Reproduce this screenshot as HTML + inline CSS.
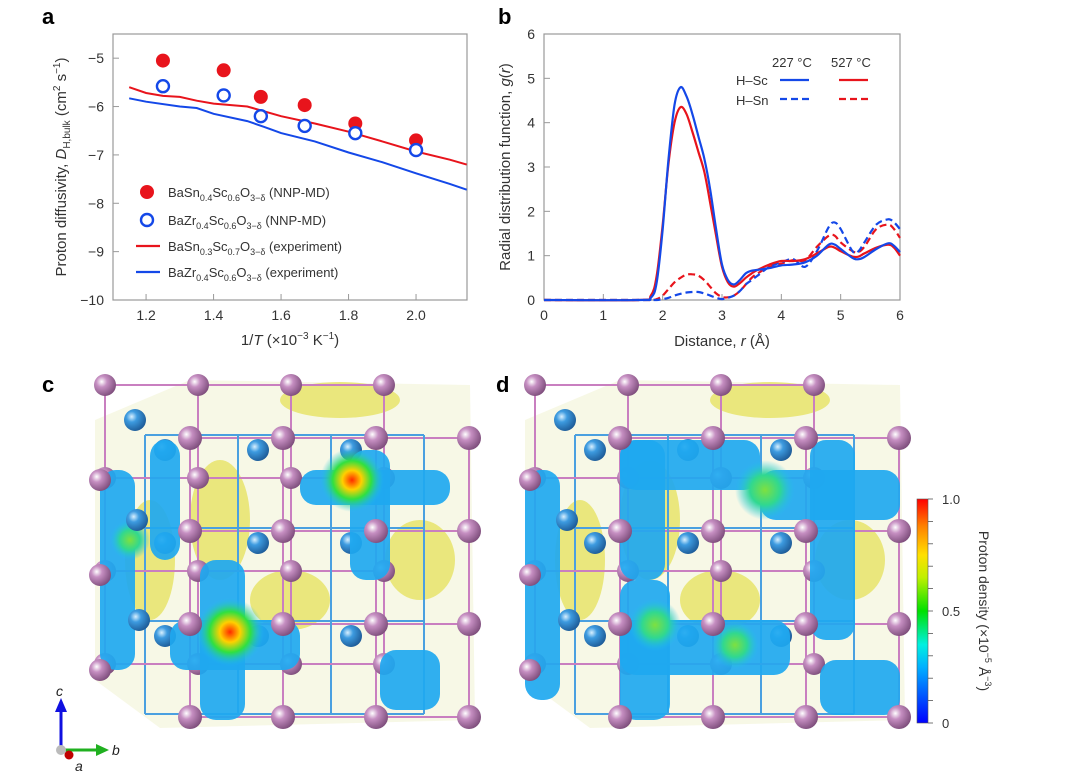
<!DOCTYPE html>
<html><head><meta charset="utf-8">
<style>
html,body{margin:0;padding:0;background:#fff;}
body{width:1080px;height:776px;overflow:hidden;font-family:"Liberation Sans",sans-serif;}
svg text{font-family:"Liberation Sans",sans-serif;}
</style></head><body>
<svg id="fig" width="1080" height="776" viewBox="0 0 1080 776">
<defs>
<radialGradient id="gPur" cx="0.35" cy="0.35" r="0.7"><stop offset="0" stop-color="#fff"/><stop offset="0.35" stop-color="#c68fc2"/><stop offset="1" stop-color="#7d4d7b"/></radialGradient>
<radialGradient id="gBlu" cx="0.35" cy="0.35" r="0.7"><stop offset="0" stop-color="#d8f0ff"/><stop offset="0.35" stop-color="#3d9be0"/><stop offset="1" stop-color="#1d5a96"/></radialGradient>
<radialGradient id="gHot" cx="0.5" cy="0.5" r="0.5"><stop offset="0" stop-color="#ff2a00"/><stop offset="0.3" stop-color="#ffd000"/><stop offset="0.6" stop-color="#30e040"/><stop offset="1" stop-color="#1ec0f0" stop-opacity="0"/></radialGradient>
<radialGradient id="gGreen" cx="0.5" cy="0.5" r="0.5"><stop offset="0" stop-color="#7ee040"/><stop offset="0.5" stop-color="#30d890"/><stop offset="1" stop-color="#1ec0f0" stop-opacity="0"/></radialGradient>
<linearGradient id="cbar" x1="0" y1="1" x2="0" y2="0"><stop offset="0" stop-color="#0000ff"/><stop offset="0.25" stop-color="#00b0ff"/><stop offset="0.35" stop-color="#00f0e0"/><stop offset="0.5" stop-color="#00e000"/><stop offset="0.65" stop-color="#c0f000"/><stop offset="0.75" stop-color="#ffe000"/><stop offset="0.88" stop-color="#ff8000"/><stop offset="1" stop-color="#ff0000"/></linearGradient>
</defs>

<g id="panelA">
<text x="42" y="24" font-size="22" font-weight="bold">a</text>
<rect x="113" y="34" width="354" height="266" fill="none" stroke="#999" stroke-width="1.2"/>
<g id="aAxes"></g>
<g id="aMarks"></g>
<text transform="translate(66,167) rotate(-90)" text-anchor="middle" font-size="15" fill="#333">Proton diffusivity, <tspan font-style="italic">D</tspan><tspan font-size="10" dy="4">H,bulk</tspan><tspan dy="-4"> (cm</tspan><tspan font-size="10" dy="-6">2</tspan><tspan dy="6"> s</tspan><tspan font-size="10" dy="-6">−1</tspan><tspan dy="6">)</tspan></text>
<text x="290" y="345" text-anchor="middle" font-size="15" fill="#333">1/<tspan font-style="italic">T</tspan> (×10<tspan font-size="10" dy="-6">−3</tspan><tspan dy="6"> K</tspan><tspan font-size="10" dy="-6">−1</tspan><tspan dy="6">)</tspan></text>
<g font-size="13" fill="#333">
<g><circle cx="147" cy="192" r="7" fill="#e8141c"/><text x="168" y="197">BaSn<tspan font-size="9" dy="4">0.4</tspan><tspan dy="-4">Sc</tspan><tspan font-size="9" dy="4">0.6</tspan><tspan dy="-4">O</tspan><tspan font-size="9" dy="4">3−δ</tspan><tspan dy="-4"> (NNP-MD)</tspan></text></g>
<g><circle cx="147" cy="220" r="6" fill="#fff" stroke="#1448e8" stroke-width="2.4"/><text x="168" y="225">BaZr<tspan font-size="9" dy="4">0.4</tspan><tspan dy="-4">Sc</tspan><tspan font-size="9" dy="4">0.6</tspan><tspan dy="-4">O</tspan><tspan font-size="9" dy="4">3−δ</tspan><tspan dy="-4"> (NNP-MD)</tspan></text></g>
<g><line x1="136" y1="246" x2="160" y2="246" stroke="#e8141c" stroke-width="2.2"/><text x="168" y="251">BaSn<tspan font-size="9" dy="4">0.3</tspan><tspan dy="-4">Sc</tspan><tspan font-size="9" dy="4">0.7</tspan><tspan dy="-4">O</tspan><tspan font-size="9" dy="4">3−δ</tspan><tspan dy="-4"> (experiment)</tspan></text></g>
<g><line x1="136" y1="272" x2="160" y2="272" stroke="#1448e8" stroke-width="2.2"/><text x="168" y="277">BaZr<tspan font-size="9" dy="4">0.4</tspan><tspan dy="-4">Sc</tspan><tspan font-size="9" dy="4">0.6</tspan><tspan dy="-4">O</tspan><tspan font-size="9" dy="4">3−δ</tspan><tspan dy="-4"> (experiment)</tspan></text></g>
</g>
</g>

<g id="panelB">
<text x="498" y="24" font-size="22" font-weight="bold">b</text>
<rect x="544" y="34" width="356" height="266" fill="none" stroke="#999" stroke-width="1.2"/>
<g id="bAxes"></g>
<g id="bMarks"></g>
<text transform="translate(510,167) rotate(-90)" text-anchor="middle" font-size="15" fill="#333">Radial distribution function, <tspan font-style="italic">g</tspan>(<tspan font-style="italic">r</tspan>)</text>
<text x="722" y="346" text-anchor="middle" font-size="15" fill="#333">Distance, <tspan font-style="italic">r</tspan> (Å)</text>
<g font-size="13" fill="#333">
<text x="772" y="67">227 °C</text>
<text x="831" y="67">527 °C</text>
<text x="736" y="85">H–Sc</text>
<text x="736" y="105">H–Sn</text>
<line x1="780" y1="80" x2="809" y2="80" stroke="#1448e8" stroke-width="2.2"/>
<line x1="839" y1="80" x2="868" y2="80" stroke="#e8141c" stroke-width="2.2"/>
<line x1="780" y1="99" x2="809" y2="99" stroke="#1448e8" stroke-width="2.2" stroke-dasharray="7,4"/>
<line x1="839" y1="99" x2="868" y2="99" stroke="#e8141c" stroke-width="2.2" stroke-dasharray="7,4"/>
</g>
</g>

<text x="42" y="392" font-size="22" font-weight="bold">c</text>
<text x="496" y="392" font-size="22" font-weight="bold">d</text>
<g id="panelC"></g>
<g id="panelD"></g>

<g>
<line x1="61" y1="750" x2="61" y2="712" stroke="#1010e0" stroke-width="3"/>
<polygon points="55,712 67,712 61,698" fill="#1010e0"/>
<line x1="61" y1="750" x2="96" y2="750" stroke="#20b020" stroke-width="3"/>
<polygon points="96,744 96,756 109,750" fill="#20b020"/>
<circle cx="61" cy="750" r="5" fill="#bbb"/>
<circle cx="69" cy="755" r="4.5" fill="#c00000"/>
<text x="56" y="696" font-size="14" font-style="italic" fill="#222">c</text>
<text x="112" y="755" font-size="14" font-style="italic" fill="#222">b</text>
<text x="75" y="771" font-size="14" font-style="italic" fill="#222">a</text>
</g>

<g>
<rect x="917" y="499" width="11" height="224" fill="url(#cbar)" stroke="#555" stroke-width="0.6"/>
<g id="cbTicks"></g>
<text x="942" y="504" font-size="13" fill="#333">1.0</text>
<text x="942" y="616" font-size="13" fill="#333">0.5</text>
<text x="942" y="728" font-size="13" fill="#333">0</text>
<text transform="translate(979,611) rotate(90)" text-anchor="middle" font-size="14" fill="#333">Proton density (×10<tspan font-size="9" dy="-6">−5</tspan><tspan dy="6"> Å</tspan><tspan font-size="9" dy="-6">−3</tspan><tspan dy="6">)</tspan></text>
</g>
</svg>

<script>
const aXTicks = [1.2, 1.4, 1.6, 1.8, 2.0];
const aXTickLabels = ["1.2", "1.4", "1.6", "1.8", "2.0"];
const aYTicks = [-5, -6, -7, -8, -9, -10];
const aYTickLabels = ["−5", "−6", "−7", "−8", "−9", "−10"];
const nnpX = [1.25, 1.43, 1.54, 1.67, 1.82, 2.0];
const nnpSn = [-5.05, -5.25, -5.8, -5.97, -6.35, -6.7];
const nnpZr = [-5.58, -5.77, -6.2, -6.4, -6.55, -6.9];
const expSnX = [1.15, 1.2, 1.25, 1.3, 1.35, 1.4, 1.5, 1.6, 1.7, 1.8, 1.9, 2.0, 2.1, 2.15];
const expSnY = [-5.6, -5.72, -5.78, -5.8, -5.88, -5.94, -6.0, -6.2, -6.35, -6.52, -6.72, -6.93, -7.1, -7.2];
const expZrX = [1.15, 1.2, 1.3, 1.35, 1.4, 1.5, 1.55, 1.6, 1.7, 1.8, 1.9, 2.0, 2.1, 2.15];
const expZrY = [-5.83, -5.9, -6.0, -6.03, -6.15, -6.3, -6.42, -6.55, -6.72, -6.95, -7.15, -7.38, -7.6, -7.72];

const bXTicks = [0, 1, 2, 3, 4, 5, 6];
const bYTicks = [0, 1, 2, 3, 4, 5, 6];
const rVals = [0,1.6,1.8,1.9,2.0,2.1,2.2,2.3,2.4,2.5,2.6,2.7,2.8,2.9,3.0,3.1,3.2,3.3,3.4,3.5,3.6,3.8,4.0,4.2,4.4,4.6,4.8,4.9,5.0,5.2,5.3,5.4,5.6,5.8,5.9,6.0];
const hSc227 = [0,0,0.05,0.4,1.6,3.2,4.4,4.8,4.6,4.2,3.7,3.2,2.5,1.6,0.8,0.45,0.35,0.45,0.6,0.66,0.68,0.72,0.78,0.8,0.85,1.0,1.25,1.25,1.15,0.95,0.92,0.97,1.15,1.28,1.22,1.08];
const hSc527 = [0,0,0.1,0.55,1.7,3.1,4.0,4.35,4.2,3.8,3.35,2.9,2.2,1.45,0.75,0.4,0.3,0.38,0.5,0.6,0.68,0.8,0.88,0.88,0.92,1.05,1.2,1.18,1.1,0.98,0.98,1.05,1.18,1.25,1.18,1.0];
const hSn227 = [0,0,0,0,0.02,0.05,0.1,0.14,0.17,0.18,0.18,0.15,0.1,0.05,0.02,0.05,0.1,0.2,0.35,0.45,0.55,0.75,0.85,0.92,0.75,1.1,1.65,1.75,1.6,1.1,1.1,1.3,1.7,1.82,1.75,1.6];
const hSn527 = [0,0,0,0.02,0.1,0.25,0.4,0.5,0.57,0.58,0.55,0.45,0.3,0.15,0.07,0.06,0.1,0.2,0.35,0.5,0.6,0.75,0.82,0.9,0.9,1.2,1.45,1.45,1.3,1.1,1.08,1.2,1.6,1.7,1.6,1.4];

const NS = "http://www.w3.org/2000/svg";
function mk(tag, attrs, parent) {
  const e = document.createElementNS(NS, tag);
  for (const k in attrs) e.setAttribute(k, attrs[k]);
  parent.appendChild(e);
  return e;
}
const ax = v => 113 + (v - 1.102) / (2.151 - 1.102) * 354;
const ay = v => 300 - (v + 10) / 5.5 * 266;
const bx = v => 544 + v / 6 * 356;
const by = v => 300 - v / 6 * 266;

const aAxes = document.getElementById('aAxes');
aXTicks.forEach((t, i) => {
  const l = mk('line', {x1: ax(t), x2: ax(t), y1: 300, y2: 294, stroke: '#999'}, aAxes);
  
  
  const tx = mk('text', {x: ax(t), y: 320, 'text-anchor': 'middle', 'font-size': 14, fill: '#333'}, aAxes);
  tx.textContent = aXTickLabels[i];
  
  
});
aYTicks.forEach((t, i) => {
  const l = mk('line', {x1: 113, x2: 119, y1: ay(t), y2: ay(t), stroke: '#999'}, aAxes);
  
  
  const tx = mk('text', {x: 104, y: ay(t) + 5, 'text-anchor': 'end', 'font-size': 14, fill: '#333'}, aAxes);
  tx.textContent = aYTickLabels[i];
  
  
});
const aMarks = document.getElementById('aMarks');
function linePath(xs, ys, fx, fy) {
  return xs.map((x, i) => (i ? 'L' : 'M') + fx(x).toFixed(1) + ',' + fy(ys[i]).toFixed(1)).join(' ');
}
const pSn = mk('path', {d: linePath(expSnX, expSnY, ax, ay), fill: 'none', stroke: '#e8141c', 'stroke-width': 2}, aMarks);


const pZr = mk('path', {d: linePath(expZrX, expZrY, ax, ay), fill: 'none', stroke: '#1448e8', 'stroke-width': 2}, aMarks);


nnpX.forEach((x, i) => {
  const c = mk('circle', {cx: ax(x), cy: ay(nnpSn[i]), r: 7, fill: '#e8141c'}, aMarks);
  
  
});
nnpX.forEach((x, i) => {
  const c = mk('circle', {cx: ax(x), cy: ay(nnpZr[i]), r: 6, fill: '#fff', stroke: '#1448e8', 'stroke-width': 2.4}, aMarks);
  
  
});

const bAxes = document.getElementById('bAxes');
bXTicks.forEach(t => {
  const l = mk('line', {x1: bx(t), x2: bx(t), y1: 300, y2: 294, stroke: '#999'}, bAxes);
  
  
  const tx = mk('text', {x: bx(t), y: 320, 'text-anchor': 'middle', 'font-size': 14, fill: '#333'}, bAxes);
  tx.textContent = String(t);
  
  
});
bYTicks.forEach(t => {
  const l = mk('line', {x1: 544, x2: 550, y1: by(t), y2: by(t), stroke: '#999'}, bAxes);
  
  
  const tx = mk('text', {x: 535, y: by(t) + 5, 'text-anchor': 'end', 'font-size': 14, fill: '#333'}, bAxes);
  tx.textContent = String(t);
  
  
});
const bMarks = document.getElementById('bMarks');
function smooth(xs, ys) {
  const p = xs.map((x, i) => [bx(x), by(ys[i])]);
  let d = 'M' + p[0][0].toFixed(1) + ',' + p[0][1].toFixed(1);
  for (let i = 0; i < p.length - 1; i++) {
    const p0 = p[Math.max(0, i - 1)], p1 = p[i], p2 = p[i + 1], p3 = p[Math.min(p.length - 1, i + 2)];
    const c1 = [p1[0] + (p2[0] - p0[0]) / 6, p1[1] + (p2[1] - p0[1]) / 6];
    const c2 = [p2[0] - (p3[0] - p1[0]) / 6, p2[1] - (p3[1] - p1[1]) / 6];
    d += ' C' + c1.map(v => v.toFixed(1)).join(',') + ' ' + c2.map(v => v.toFixed(1)).join(',') + ' ' + p2.map(v => v.toFixed(1)).join(',');
  }
  return d;
}
const s1 = mk('path', {d: smooth(rVals, hSn527), fill: 'none', stroke: '#e8141c', 'stroke-width': 2.2, 'stroke-dasharray': '7,4'}, bMarks);


const s2 = mk('path', {d: smooth(rVals, hSn227), fill: 'none', stroke: '#1448e8', 'stroke-width': 2.2, 'stroke-dasharray': '7,4'}, bMarks);


const s3 = mk('path', {d: smooth(rVals, hSc527), fill: 'none', stroke: '#e8141c', 'stroke-width': 2.2}, bMarks);


const s4 = mk('path', {d: smooth(rVals, hSc227), fill: 'none', stroke: '#1448e8', 'stroke-width': 2.2}, bMarks);



const cb = document.getElementById('cbTicks');
for (let i = 0; i <= 10; i++) {
  const y = 723 - i * 22.4;
  const l = mk('line', {x1: 928, x2: 933, y1: y, y2: y, stroke: '#555', 'stroke-width': 0.8}, cb);
  
  
}

function crystal(g, ox, variant) {
  const back = [ox + 15, 385], front = [ox + 100, 438], sp = 93;
  mk('path', {d: `M${ox+5},420 L${ox+100},380 L${ox+380},385 L${ox+385},720 L${ox+70},728 L${ox+5},680 Z`, fill: '#eef0c8', opacity: 0.45}, g);
  [[ox+200,600,40,30],[ox+130,520,30,60],[ox+330,560,35,40],[ox+250,400,60,18],[ox+60,560,25,60]].forEach(b => {
    mk('ellipse', {cx: b[0], cy: b[1], rx: b[2], ry: b[3], fill: '#e4e050', opacity: 0.7}, g);
  });
  for (let i = 0; i < 4; i++) {
    for (const base of [back, front]) {
      mk('line', {x1: base[0], y1: base[1] + i * sp, x2: base[0] + 3 * sp, y2: base[1] + i * sp, stroke: '#c97fc0', 'stroke-width': 2}, g);
      mk('line', {x1: base[0] + i * sp, y1: base[1], x2: base[0] + i * sp, y2: base[1] + 3 * sp, stroke: '#c97fc0', 'stroke-width': 2}, g);
    }
    mk('line', {x1: back[0] + 40 + i * sp, y1: back[1] + 50, x2: back[0] + 40 + i * sp, y2: back[1] + 50 + 3 * sp, stroke: '#4aa0e0', 'stroke-width': 2}, g);
    mk('line', {x1: back[0] + 40, y1: back[1] + 50 + i * sp, x2: back[0] + 40 + 3 * sp, y2: back[1] + 50 + i * sp, stroke: '#4aa0e0', 'stroke-width': 2}, g);
  }
  for (let i = 0; i < 4; i++) for (let j = 0; j < 4; j++) {
    mk('circle', {cx: back[0] + i * sp, cy: back[1] + j * sp, r: 11, fill: 'url(#gPur)'}, g);
  }
  for (let i = 0; i < 3; i++) for (let j = 0; j < 3; j++) {
    mk('circle', {cx: back[0] + 40 + i * sp + 20, cy: back[1] + 50 + j * sp + 15, r: 11, fill: 'url(#gBlu)'}, g);
  }
  const blobs = variant === 'c'
    ? [[ox+210,470,150,35],[ox+260,450,40,130],[ox+80,620,130,50],[ox+110,560,45,160],[ox+290,650,60,60],[ox+10,470,35,200],[ox+60,440,30,120]]
    : [[ox+100,440,140,50],[ox+100,440,45,140],[ox+240,470,140,50],[ox+290,440,45,200],[ox+100,580,50,140],[ox+100,620,170,55],[ox+300,660,80,55],[ox+5,470,35,230]];
  blobs.forEach(b => mk('rect', {x: b[0], y: b[1], width: b[2], height: b[3], rx: 16, fill: '#1ea8f0', opacity: 0.92}, g));
  const hots = variant === 'c' ? [[ox+262,480,'gHot',32],[ox+140,632,'gHot',34],[ox+40,540,'gGreen',20]] : [[ox+245,490,'gGreen',30],[ox+135,625,'gGreen',26],[ox+215,645,'gGreen',24]];
  hots.forEach(h => mk('circle', {cx: h[0], cy: h[1], r: h[3], fill: 'url(#' + h[2] + ')'}, g));
  for (let i = 0; i < 4; i++) for (let j = 0; j < 4; j++) {
    mk('circle', {cx: front[0] + i * sp, cy: front[1] + j * sp, r: 12, fill: 'url(#gPur)'}, g);
  }
  for (let i = 0; i < 3; i++) {
    mk('circle', {cx: ox + 45 + i * 2, cy: 420 + i * 100, r: 11, fill: 'url(#gBlu)'}, g);
    mk('circle', {cx: ox + 10, cy: 480 + i * 95, r: 11, fill: 'url(#gPur)'}, g);
  }
}
crystal(document.getElementById('panelC'), 90, 'c');
crystal(document.getElementById('panelD'), 520, 'd');
</script>
</body></html>
